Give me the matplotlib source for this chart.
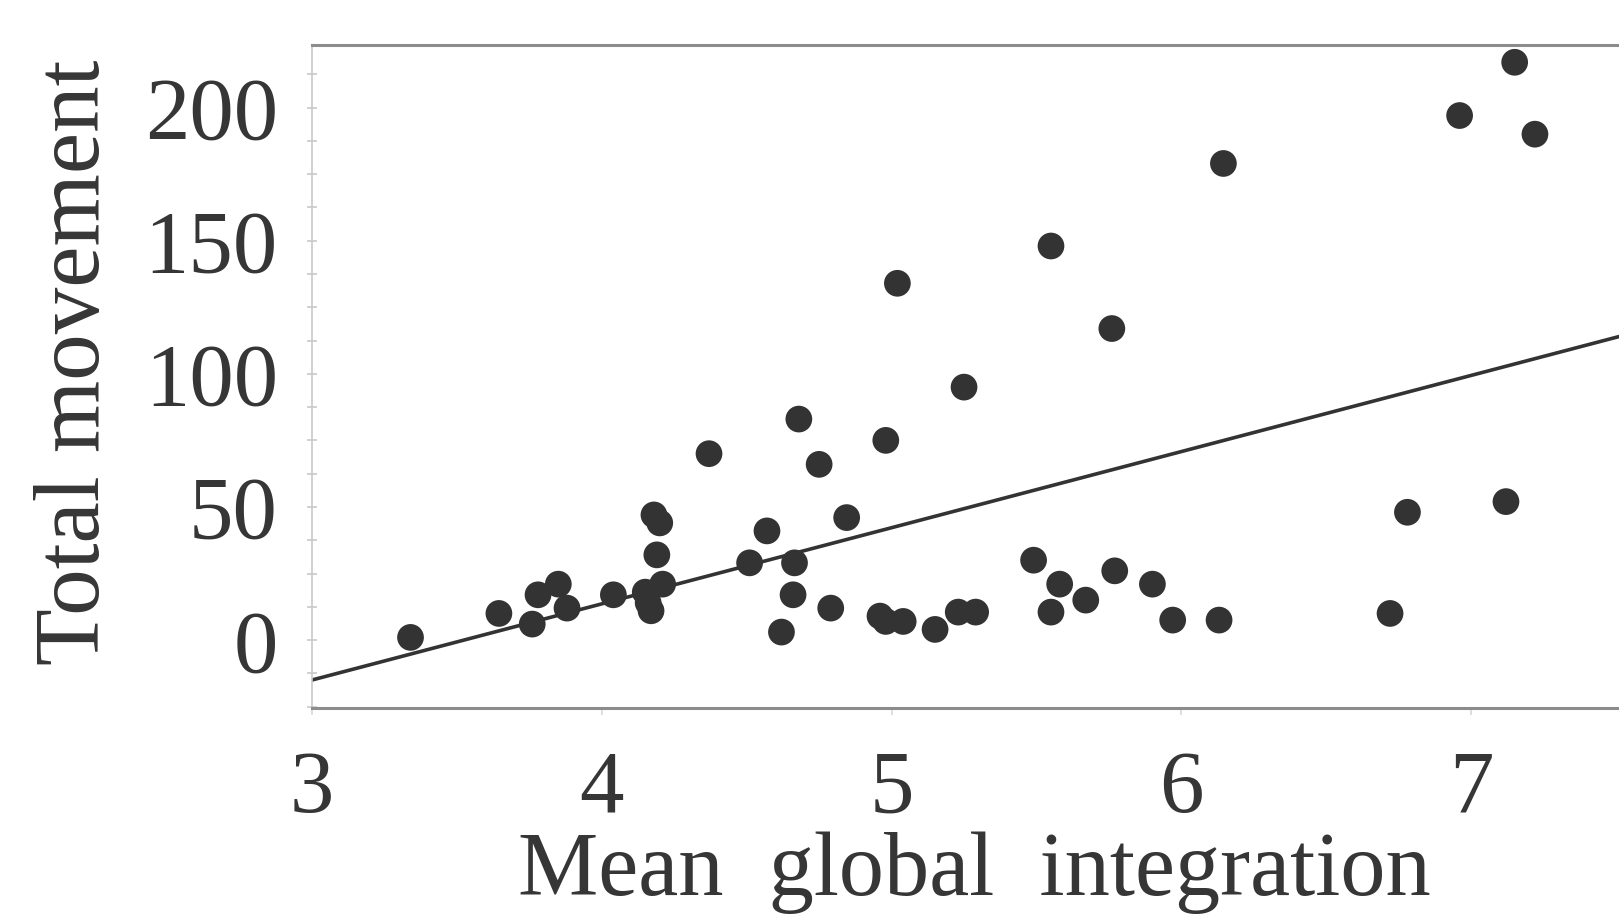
import matplotlib
matplotlib.use("Agg")
import numpy as np
import matplotlib.pyplot as plt
from matplotlib.ticker import MultipleLocator

# Mean global integration vs. total movement, one dot per case
integration = [3.34, 3.645, 3.76, 3.78, 3.85, 3.88, 4.04, 4.15, 4.16, 4.17,
               4.21, 4.19, 4.18, 4.20, 4.37, 4.51, 4.57, 4.62, 4.66, 4.665,
               4.68, 4.75, 4.79, 4.845, 4.96, 4.98, 4.98, 5.02, 5.04, 5.15,
               5.23, 5.25, 5.29, 5.49, 5.55, 5.55, 5.58, 5.67, 5.76, 5.77,
               5.90, 5.97, 6.13, 6.145, 6.72, 6.78, 6.96, 7.12, 7.15, 7.22]
movement = [1, 10, 6, 17, 21, 12, 17, 18, 14, 11,
            21, 32, 47, 44, 70, 29, 41, 3, 17, 29,
            83, 66, 12, 46, 9, 75, 7, 134, 7, 4,
            10.5, 95, 10.5, 30, 148, 10.5, 21, 15, 117, 26,
            21, 7.5, 7.5, 179, 10, 48, 197, 52, 217, 190]

# least-squares line
fit_intercept = -100.8
fit_slope = 28.6

x_ticks = [3, 4, 5, 6, 7]
y_ticks = [0, 50, 100, 150, 200]

plt.rcParams['font.family'] = ['Liberation Serif', 'DejaVu Serif']

ink = '#333333'
text_ink = '#363636'
fig = plt.figure(figsize=(16.19, 9.18), dpi=100)
ax = fig.add_axes([0.1927, 0.2288, 0.8073, 0.7222])

ax.scatter(integration, movement, s=370, color=ink, edgecolors='none', zorder=3)
ax.axline((0, fit_intercept), slope=fit_slope, color=ink, lw=2.6, zorder=2)

ax.set_xlim(3, 7.51)
ax.set_ylim(-25.5, 223.5)
ax.set_xticks(x_ticks)
ax.set_yticks(y_ticks)
ax.yaxis.set_minor_locator(MultipleLocator(12.5))

ax.tick_params(axis='y', which='both', direction='inout', length=7, width=1.2,
               color='#c8c8c8', labelsize=64, labelcolor=text_ink, pad=21)
ax.tick_params(axis='x', which='both', direction='out', length=5, width=1.2,
               color='#d8d8d8', labelsize=64, labelcolor=text_ink, pad=25)

for side in ('top', 'bottom'):
    ax.spines[side].set_color('#8c8c8c')
    ax.spines[side].set_linewidth(2.2)
ax.spines['left'].set_color('#c8c8c8')
ax.spines['left'].set_linewidth(1.2)
ax.spines['right'].set_visible(False)

ax.set_xlabel('Mean  global  integration', fontsize=65, color=text_ink, va='baseline')
ax.xaxis.set_label_coords(0.507, -0.282)
ax.set_ylabel('Total movement', fontsize=67, color=text_ink, va='baseline')
ax.yaxis.set_label_coords(-0.163, 0.522)

fig.savefig('out.png', dpi=100)
